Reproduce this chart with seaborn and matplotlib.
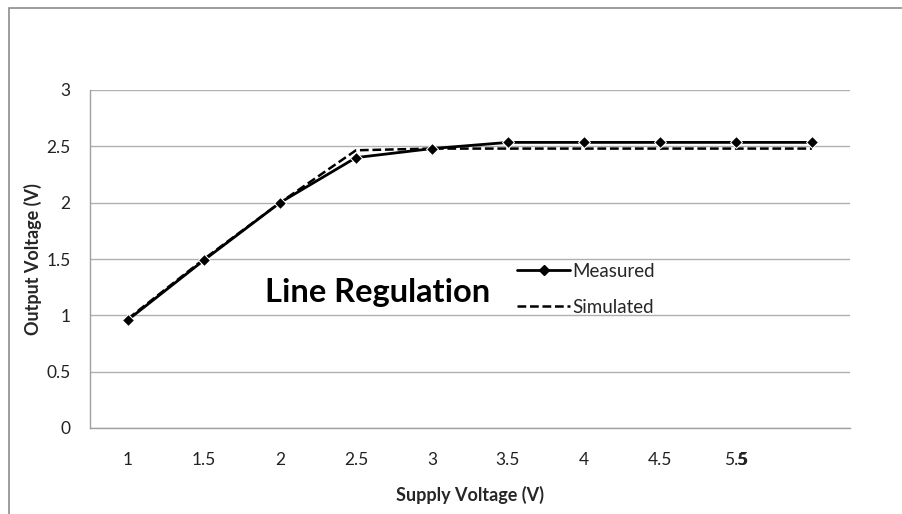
import matplotlib
matplotlib.use("Agg")
import matplotlib.pyplot as plt
import seaborn as sns
import pandas as pd
from matplotlib.lines import Line2D
from matplotlib.patches import Rectangle

supply = ["1", "1.5", "2", "2.5", "3", "3.5", "4", "4.5", "5", "5.5"]
measured = [0.96, 1.49, 2.00, 2.40, 2.48, 2.535, 2.535, 2.535, 2.535, 2.535]
simulated = [0.97, 1.50, 2.00, 2.465, 2.48, 2.48, 2.48, 2.48, 2.48, 2.48]
tick_labels = ["1", "1.5", "2", "2.5", "3", "3.5", "4", "4.5", "5.5"]
y_ticks = [0, 0.5, 1, 1.5, 2, 2.5, 3]

sns.set_theme(style="white")
plt.rcParams['font.family'] = ['Lato', 'DejaVu Sans']

df = pd.DataFrame({"x": list(range(len(supply))), "Measured": measured, "Simulated": simulated})

fig = plt.figure(figsize=(9.03, 5.14), dpi=100)
ax = fig.add_axes([90/903, 1-428/514, 760/903, 338/514])

sns.lineplot(data=df, x="x", y="Simulated", ax=ax, color="black", linewidth=1.8,
             linestyle=(0, (3.5, 1.5)), zorder=3)
sns.lineplot(data=df, x="x", y="Measured", ax=ax, color="black", linewidth=2,
             marker="D", markersize=6, zorder=4)

xpad = 17
ax.set_xlim(-0.5, len(supply) - 0.5)
ax.set_ylim(0, 3)
ax.set_yticks(y_ticks)
ax.set_yticklabels([f"{v:g}" for v in y_ticks], fontsize=12.5, color="#222222")
ax.set_xticks(range(len(tick_labels)))
ax.set_xticklabels(tick_labels, fontsize=12.5, color="#222222")
ax.tick_params(axis="x", length=0, pad=xpad)
ax.tick_params(axis="y", length=0, pad=14)
trans, va, ha = ax.get_xaxis_text1_transform(xpad)
ax.text(8.075, 0, "5", transform=trans, va=va, ha=ha, fontsize=12.5,
        color="#222222", fontweight="bold")
ax.yaxis.grid(True, color="#b0b0b0", linewidth=1)
ax.set_axisbelow(True)
for s in ["top", "right"]:
    ax.spines[s].set_visible(False)
for s in ["left", "bottom"]:
    ax.spines[s].set_color("#a0a0a0")
    ax.spines[s].set_linewidth(1)

ax.set_xlabel("Supply Voltage (V)", fontsize=13, fontweight="bold", labelpad=13)
ax.set_ylabel("Output Voltage (V)", fontsize=13, fontweight="bold", labelpad=3)

ax.text(3.28, 1.207, "Line Regulation", fontsize=23.5, fontweight="bold",
        ha="center", va="center", color="black")

handles = [Line2D([], [], color="black", linewidth=2, marker="D", markersize=5),
           Line2D([], [], color="black", linewidth=1.8, linestyle=(0, (3.5, 1.5)))]
ax.legend(handles, ["Measured", "Simulated"], loc="center left",
          bbox_to_anchor=(0.54, 0.41), frameon=False, fontsize=13.5,
          handlelength=2.8, handletextpad=0.12, labelspacing=1.0)

fig.patches.append(Rectangle((9/903, -0.1), 1.2, 1 - 8/514 + 0.1,
                             transform=fig.transFigure, fill=False,
                             edgecolor="#8c8c8c", linewidth=1.2))

fig.savefig("out.png", dpi=100)
